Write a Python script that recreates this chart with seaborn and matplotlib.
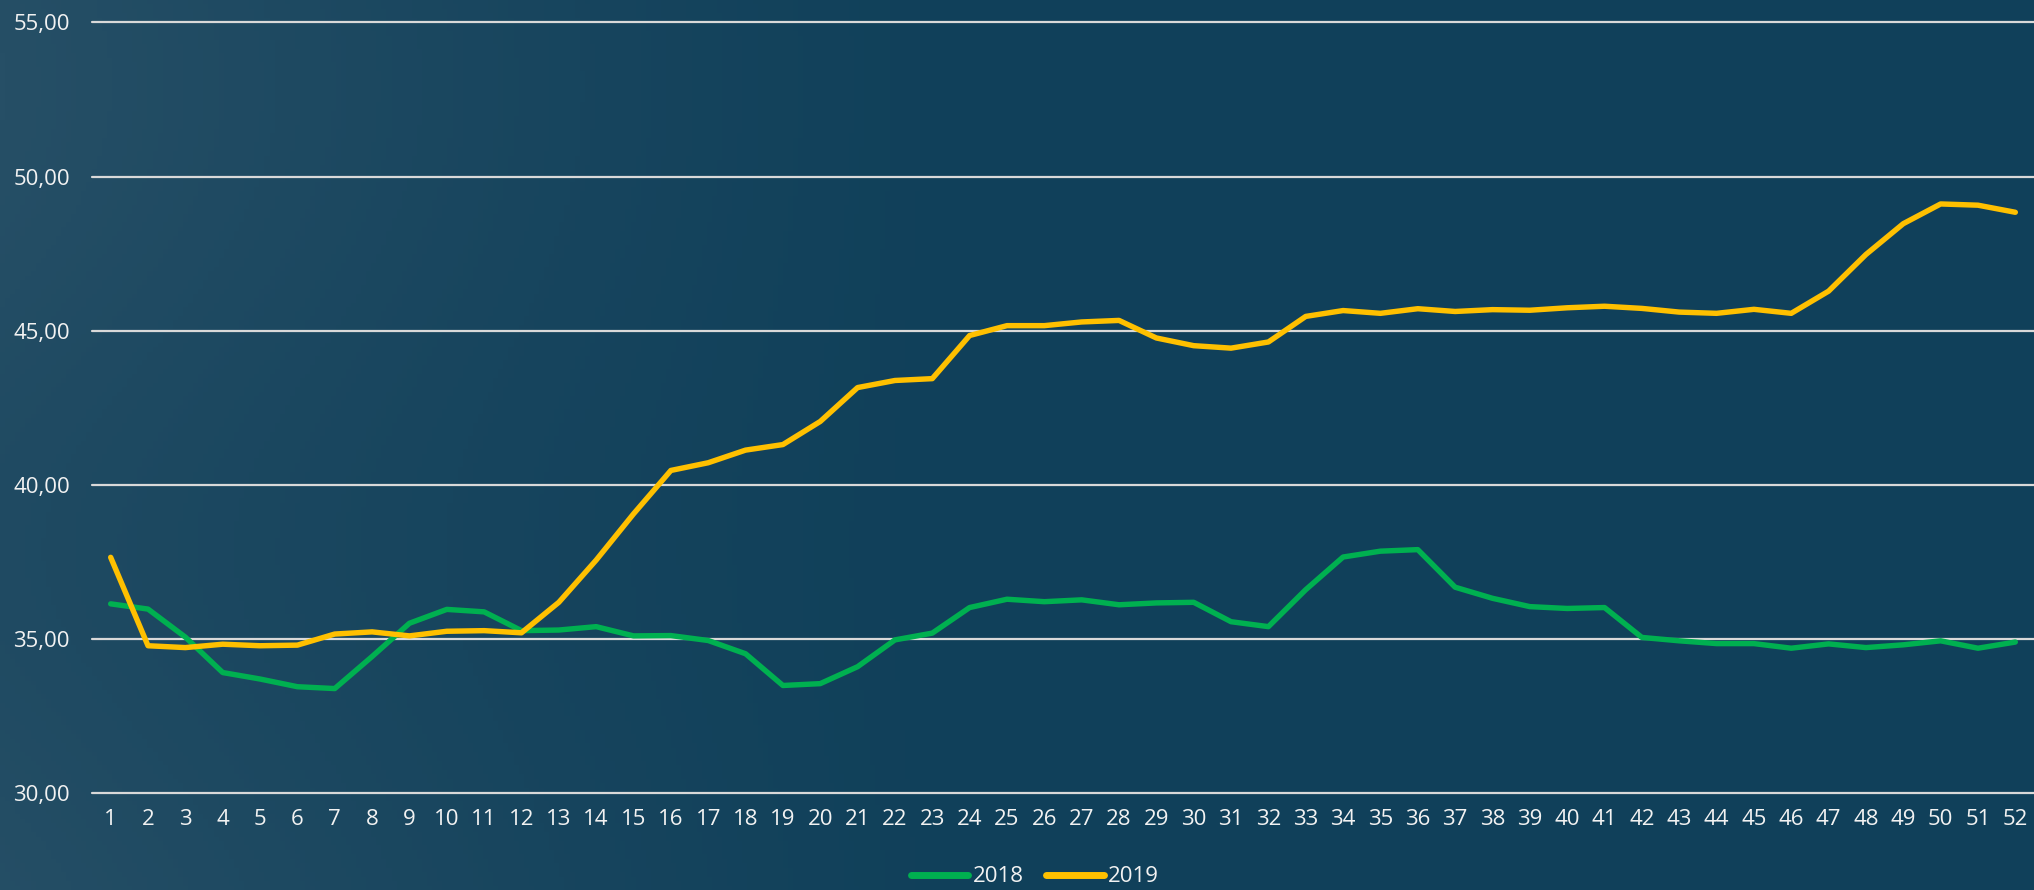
import numpy as np
import pandas as pd
import matplotlib
matplotlib.use("Agg")
import matplotlib.pyplot as plt
from matplotlib.colors import LinearSegmentedColormap
from matplotlib.lines import Line2D
import seaborn as sns

weeks = list(range(1, 53))
values_2018 = [36.13, 35.96, 35.05, 33.90, 33.69, 33.44, 33.38, 34.42, 35.50, 35.95,
               35.87, 35.26, 35.28, 35.39, 35.09, 35.10, 34.94, 34.51, 33.48, 33.54,
               34.09, 34.96, 35.18, 36.01, 36.28, 36.20, 36.26, 36.10, 36.16, 36.18,
               35.55, 35.39, 36.59, 37.65, 37.84, 37.89, 36.67, 36.31, 36.04, 35.98,
               36.01, 35.04, 34.93, 34.84, 34.84, 34.69, 34.83, 34.71, 34.80, 34.93,
               34.69, 34.89]
values_2019 = [37.64, 34.77, 34.71, 34.82, 34.77, 34.79, 35.15, 35.22, 35.09, 35.24,
               35.26, 35.19, 36.18, 37.55, 39.05, 40.46, 40.71, 41.12, 41.30, 42.05,
               43.15, 43.38, 43.44, 44.84, 45.16, 45.16, 45.28, 45.33, 44.76, 44.51,
               44.43, 44.63, 45.46, 45.65, 45.56, 45.71, 45.62, 45.68, 45.66, 45.74,
               45.79, 45.72, 45.60, 45.56, 45.69, 45.56, 46.28, 47.47, 48.47, 49.11,
               49.07, 48.84]
series_names = ["2018", "2019"]
series_colors = ["#00B050", "#FFC000"]
y_ticks = [30, 35, 40, 45, 50, 55]

df = pd.DataFrame({
    "week": weeks * 2,
    "value": values_2018 + values_2019,
    "year": [series_names[0]] * len(weeks) + [series_names[1]] * len(weeks),
})

sns.set_theme(style="white")
plt.rcParams["font.family"] = ["Open Sans", "DejaVu Sans"]

W, H = 2034, 890
fig = plt.figure(figsize=(W / 100, H / 100), dpi=100)

# background with subtle left-side lightening
bg = fig.add_axes([0, 0, 1, 1], zorder=0)
bg.set_axis_off()
xs = np.linspace(0, 1, 400)
ys = np.linspace(0, 1, 200)
X, Y = np.meshgrid(xs, ys)
light = np.clip(1 - X / 0.5, 0, 1) ** 1.3
light = light * (0.85 + 0.15 * np.sin(Y * 6.0 + 1.0))
cmap = LinearSegmentedColormap.from_list("bgc", ["#10405A", "#264F66"])
bg.imshow(light, cmap=cmap, aspect="auto", extent=[0, 1, 0, 1], vmin=0, vmax=1)

ax = fig.add_axes([92 / W, (H - 792.7) / H, 1 - 92 / W, (792.7 - 22.5) / H], zorder=1)
ax.set_facecolor("none")

sns.lineplot(data=df, x="week", y="value", hue="year", palette=series_colors,
             hue_order=series_names, linewidth=3.9, ax=ax, legend=False,
             solid_capstyle="round", solid_joinstyle="round", zorder=3)

ax.set_xlim(0.5, 52.5)
ax.set_ylim(30, 55)
ax.set_yticks(y_ticks)
ax.set_yticklabels([f"{v:.2f}".replace(".", ",") for v in y_ticks])
ax.set_xticks(weeks)
ax.set_xticklabels([str(w) for w in weeks])
ax.set_xlabel("")
ax.set_ylabel("")
for s in ax.spines.values():
    s.set_visible(False)
ax.grid(axis="y", color="#D9D9D9", linewidth=1.6, zorder=1)
ax.grid(axis="x", visible=False)
for gl in ax.get_ygridlines():
    gl.set_clip_on(False)
ax.tick_params(axis="y", length=0, pad=16, labelsize=16, labelcolor="#F2F2F2")
ax.tick_params(axis="x", length=0, pad=12, labelsize=16, labelcolor="#F2F2F2")

handles = [Line2D([0], [0], color=c, linewidth=5, solid_capstyle="round") for c in series_colors]
fig.legend(handles, series_names, loc="center", bbox_to_anchor=(1035 / W, 13 / H),
           ncol=2, frameon=False, fontsize=16, labelcolor="#F2F2F2",
           handlelength=2.6, handletextpad=0.2, columnspacing=1.0, borderpad=0)

fig.savefig("out.png", dpi=100)
